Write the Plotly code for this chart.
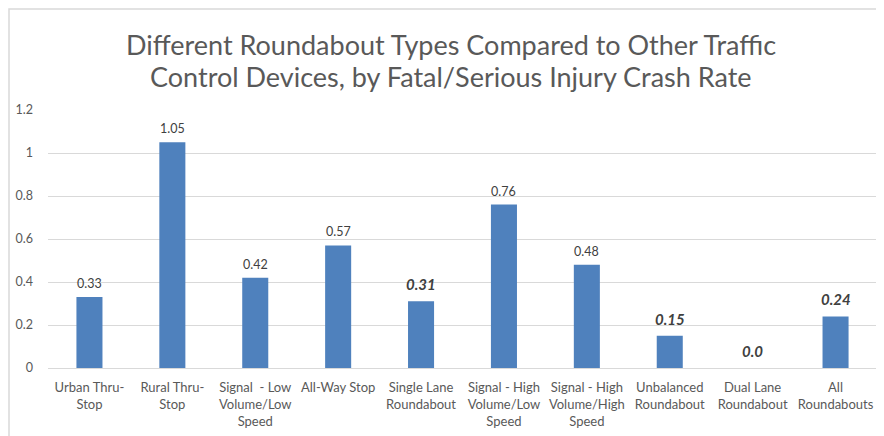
import plotly.graph_objects as go

categories = ["Urban Thru-<br>Stop", "Rural Thru-<br>Stop", "Signal  - Low<br>Volume/Low<br>Speed",
              "All-Way Stop", "Single Lane<br>Roundabout", "Signal - High<br>Volume/Low<br>Speed",
              "Signal - High<br>Volume/High<br>Speed", "Unbalanced<br>Roundabout",
              "Dual Lane<br>Roundabout", "All<br>Roundabouts"]
values = [0.33, 1.05, 0.42, 0.57, 0.31, 0.76, 0.48, 0.15, 0.0, 0.24]
value_labels = ["0.33", "1.05", "0.42", "0.57", "0.31", "0.76", "0.48", "0.15", "0.0", "0.24"]
is_roundabout = [False, False, False, False, True, False, False, True, True, True]
y_ticks = [0, 0.2, 0.4, 0.6, 0.8, 1, 1.2]
y_ticklabels = ["0", "0.2", "0.4", "0.6", "0.8", "1", "1.2"]
title_lines = ["Different Roundabout Types Compared to Other Traffic",
               "Control Devices, by Fatal/Serious Injury Crash Rate"]

FONT = "Lato"
GREY = "#595959"

# page offset of the figure (browser body margin)
OFF = 8
W, H = 884 - OFF, 436 - OFF
L, R, T, B = 48 - OFF, 7, 110 - OFF, 68
PW, PH = W - L - R, H - T - B


def px_x(page_x):
    return (page_x - OFF - L) / PW


def px_y(page_y):
    return (H - B - (page_y - OFF)) / PH


fig = go.Figure()
fig.add_trace(go.Bar(x=categories, y=values, marker=dict(color="#4F81BD", line=dict(width=0)),
                     hoverinfo="skip"))

annotations = []
for c, v, lab, rb in zip(categories, values, value_labels, is_roundabout):
    if rb:
        annotations.append(dict(x=c, y=v, xref="x", yref="y", text=f"<b><i>{lab}</i></b>",
                                showarrow=False, yanchor="bottom", yshift=6,
                                font=dict(family=FONT, size=15, color="#404040")))
    else:
        annotations.append(dict(x=c, y=v, xref="x", yref="y", text=lab,
                                showarrow=False, yanchor="bottom", yshift=4,
                                font=dict(family=FONT, size=12.5, color="#404040")))

for line, cy in zip(title_lines, [44, 76]):
    annotations.append(dict(x=px_x(451), y=px_y(cy), xref="paper", yref="paper",
                            text=line, showarrow=False, xanchor="center", yanchor="middle",
                            font=dict(family=FONT, size=27, color=GREY)))

fig.update_layout(
    width=W, height=H,
    margin=dict(l=L, r=R, t=T, b=B),
    paper_bgcolor="white", plot_bgcolor="white",
    showlegend=False,
    bargap=0.686,
    annotations=annotations,
    xaxis=dict(type="category", showgrid=False, showline=False, ticks="",
               tickfont=dict(family=FONT, size=13, color=GREY), tickangle=0,
               ticklabelstandoff=10),
    yaxis=dict(range=[0, 1.2], tickvals=y_ticks, ticktext=y_ticklabels,
               showgrid=True, gridcolor="#D9D9D9", gridwidth=1,
               zeroline=True, zerolinecolor="#D9D9D9", zerolinewidth=1,
               showline=False, ticks="", ticklabelstandoff=14,
               tickfont=dict(family=FONT, size=12.5, color=GREY)),
    shapes=[dict(type="rect", xref="paper", yref="paper",
                 x0=px_x(OFF + 1), x1=px_x(900), y0=px_y(460), y1=px_y(OFF + 1),
                 line=dict(color="#D9D9D9", width=1.5), fillcolor="rgba(0,0,0,0)", layer="below")],
)

fig.write_html("out.html")
